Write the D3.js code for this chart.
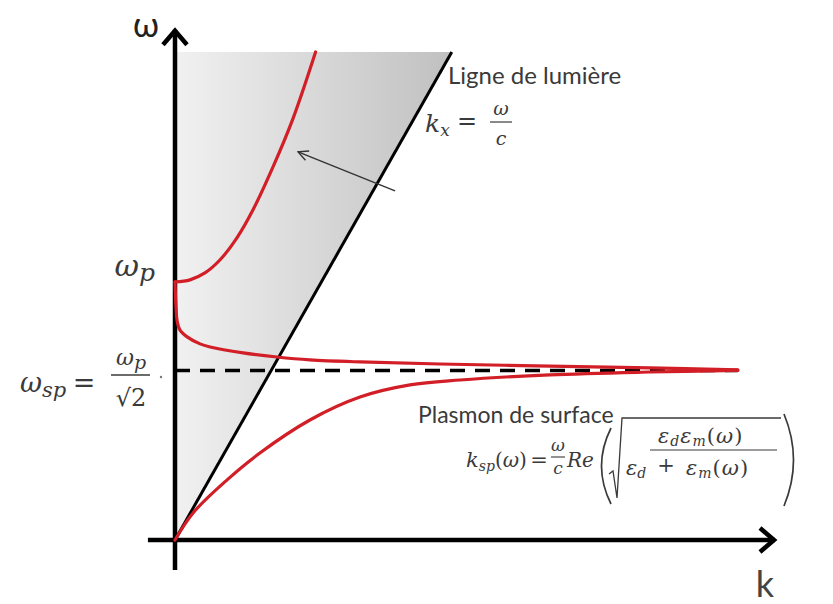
<!DOCTYPE html>
<html><head><meta charset="utf-8">
<script src="https://cdn.jsdelivr.net/npm/d3@7"></script>
<style>body{margin:0;background:#fff}svg{display:block}text{white-space:pre}</style>
</head><body>
<script>
// Surface plasmon dispersion: ω versus k, ω in units of ω_p
const omegaP = 1.0;
const omegaSp = 0.657;          // asymptote ω_sp
const omegaTop = 1.891;         // top of the shaded light cone
const lightLine = [[0, 0], [1.073, 1.891]];
const kMax = 2.182;             // right end of the asymptote
const kAxis = [-0.105, 2.326];
const wAxis = [-0.116, 1.977];

// bulk branch above ω_p
const bulkBranch = [[0, 1.0], [0.058, 1.008], [0.116, 1.035], [0.174, 1.085], [0.240, 1.171],
  [0.302, 1.279], [0.380, 1.446], [0.457, 1.632], [0.545, 1.891]];
// branch falling from ω_p towards ω_sp
const surfaceUpper = [[0, 1.0], [0.004, 0.90], [0.008, 0.85], [0.019, 0.814], [0.047, 0.787],
  [0.097, 0.760], [0.136, 0.748], [0.264, 0.725], [0.395, 0.709], [0.523, 0.698], [0.717, 0.690],
  [1.027, 0.682], [1.453, 0.674], [1.841, 0.667], [2.182, 0.659]];
// surface plasmon branch from the origin
const surfaceLower = [[0, 0], [0.070, 0.105], [0.202, 0.233], [0.329, 0.337], [0.523, 0.465],
  [0.717, 0.554], [0.911, 0.601], [1.105, 0.620], [1.453, 0.640], [1.841, 0.651], [2.182, 0.657]];
// arrow pointing into the light cone (tail, head)
const coneArrow = [[0.853, 1.353], [0.477, 1.504]];

const W = 833, H = 604;
const x = d3.scaleLinear().domain([0, 2.326]).range([175, 775]);
const y = d3.scaleLinear().domain([0, omegaTop]).range([540, 52]);

const svg = d3.select("body").append("svg").attr("width", W).attr("height", H);
const defs = svg.append("defs");

const grad = defs.append("linearGradient").attr("id", "cone")
  .attr("gradientUnits", "userSpaceOnUse")
  .attr("x1", x(0)).attr("x2", x(lightLine[1][0])).attr("y1", 0).attr("y2", 0);
grad.append("stop").attr("offset", 0).attr("stop-color", "#f1f1f1");
grad.append("stop").attr("offset", 1).attr("stop-color", "#c0c0c0");

defs.append("marker").attr("id", "head").attr("viewBox", "0 0 12 12")
  .attr("refX", 11).attr("refY", 6).attr("markerWidth", 12).attr("markerHeight", 12)
  .attr("markerUnits", "userSpaceOnUse").attr("orient", "auto")
  .append("path").attr("d", "M1,1 L11,6 L1,11").attr("fill", "none")
  .attr("stroke", "#333").attr("stroke-width", 1.4);

const line = d3.line().x(d => x(d[0])).y(d => y(d[1]));
const curve = d3.line().x(d => x(d[0])).y(d => y(d[1])).curve(d3.curveCatmullRom.alpha(0.5));

// shaded light cone
svg.append("path")
  .attr("d", line([[0, 0], [0, omegaTop], [lightLine[1][0], omegaTop], [0, 0]]))
  .attr("fill", "url(#cone)");

// light line
svg.append("path").attr("d", line(lightLine))
  .attr("stroke", "#000").attr("stroke-width", 3).attr("fill", "none");

// ω_sp asymptote
svg.append("path").attr("d", line([[0, omegaSp], [kMax, omegaSp]]))
  .attr("stroke", "#000").attr("stroke-width", 3.5).attr("stroke-dasharray", "15 10")
  .attr("fill", "none");

// axes with chevron heads
const axisG = svg.append("g").attr("stroke", "#000").attr("stroke-width", 4.5).attr("fill", "none");
axisG.append("path").attr("d", line([[0, wAxis[0]], [0, wAxis[1]]]));
axisG.append("path").attr("d", line([[kAxis[0], 0], [kAxis[1], 0]]));
axisG.append("path").attr("stroke-linejoin", "miter")
  .attr("d", `M${x(0) - 12},${y(wAxis[1]) + 15} L${x(0)},${y(wAxis[1]) + 1} L${x(0) + 12},${y(wAxis[1]) + 15}`);
axisG.append("path").attr("stroke-linejoin", "miter")
  .attr("d", `M${x(kAxis[1]) - 15},${y(0) - 12} L${x(kAxis[1]) - 1},${y(0)} L${x(kAxis[1]) - 15},${y(0) + 12}`);

// dispersion branches
const red = "#d21f27";
[bulkBranch, surfaceUpper, surfaceLower].forEach(b => {
  svg.append("path").attr("d", curve(b)).attr("stroke", red).attr("stroke-width", 3.2)
    .attr("fill", "none").attr("stroke-linecap", "round");
});

// arrow
svg.append("path").attr("d", line(coneArrow)).attr("stroke", "#333").attr("stroke-width", 1.4)
  .attr("fill", "none").attr("marker-end", "url(#head)");

// ---- text ----
const serif = "'DejaVu Serif', serif";
const sans = "Lato, 'Open Sans', sans-serif";
const ink = "#3a3a3a";

function math(xp, yp, parts, anchor, spacing) {
  const t = svg.append("text").attr("x", xp).attr("y", yp).attr("fill", ink)
    .attr("font-family", serif).attr("text-anchor", anchor || "start");
  if (spacing) t.attr("letter-spacing", spacing);
  parts.forEach(p => {
    const s = t.append("tspan").text(p.t).attr("font-size", p.s)
      .attr("font-style", p.i === false ? "normal" : "italic");
    if (p.dy) s.attr("dy", p.dy);
  });
  return t;
}
function bar(x1, x2, yy, w) {
  svg.append("line").attr("x1", x1).attr("x2", x2).attr("y1", yy).attr("y2", yy)
    .attr("stroke", ink).attr("stroke-width", w || 1.2);
}

// axis titles
svg.append("text").attr("x", 146).attr("y", 37).attr("text-anchor", "middle")
  .attr("font-family", sans).attr("font-size", 34).attr("fill", "#222").text("ω");
svg.append("text").attr("x", 765).attr("y", 597).attr("text-anchor", "middle")
  .attr("font-family", sans).attr("font-size", 36).attr("fill", "#444").text("k");

// ω_p
math(155, y(omegaP) - 6, [{ t: "ω", s: 30 }, { t: "p", s: 25, dy: 5 }], "end");

// ω_sp = ω_p / √2
math(20, 392, [{ t: "ω", s: 27 }, { t: "sp", s: 21, dy: 5 }]);
math(84, 392, [{ t: "=", s: 27, i: false }], "middle");
math(131, 365, [{ t: "ω", s: 22 }, { t: "p", s: 19, dy: 4 }], "middle");
bar(111, 150, 375, 1.3);
math(131, 406, [{ t: "√", s: 24, i: false }, { t: "2", s: 24, i: false }], "middle");
svg.append("circle").attr("cx", 161).attr("cy", 377).attr("r", 1.2).attr("fill", "#777");

// light line label
svg.append("text").attr("x", 448).attr("y", 84).attr("font-family", sans).attr("font-size", 24)
  .attr("fill", ink).text("Ligne de lumière");
math(425, 132, [{ t: "k", s: 25 }, { t: "x", s: 17, dy: 4 }]);
math(467, 129, [{ t: "=", s: 24, i: false }], "middle");
math(501, 115, [{ t: "ω", s: 19 }], "middle");
bar(490, 512, 122);
math(501, 145, [{ t: "c", s: 19 }], "middle");

// surface plasmon label and formula
svg.append("text").attr("x", 418).attr("y", 423).attr("font-family", sans).attr("font-size", 23)
  .attr("fill", ink).text("Plasmon de surface");
math(466, 467, [{ t: "k", s: 21 }, { t: "sp", s: 14, dy: 4 }, { t: "(", s: 20, dy: -4, i: false },
  { t: "ω", s: 20 }, { t: ")", s: 20, i: false }]);
math(539, 467, [{ t: "=", s: 21, i: false }], "middle");
math(558, 451, [{ t: "ω", s: 17 }], "middle");
bar(551, 565, 457, 1.1);
math(558, 474, [{ t: "c", s: 17 }], "middle");
math(567, 467, [{ t: "Re", s: 20 }]);
// big parentheses and radical
const fg = svg.append("g").attr("stroke", ink).attr("fill", "none").attr("stroke-width", 1.7);
fg.append("path").attr("d", "M611,428 Q592,466 611,504");
fg.append("path").attr("d", "M784,414 Q803,460 784,506");
fg.append("path").attr("stroke-width", 1.3)
  .attr("d", "M609,474 L613,471 L617,498 L622,418 L781,418");
math(658, 443, [{ t: "ε", s: 21 }, { t: "d", s: 14, dy: 3 }, { t: "ε", s: 21, dy: -3 },
  { t: "m", s: 14, dy: 3 }, { t: "(", s: 21, dy: -3, i: false }, { t: "ω", s: 21 }, { t: ")", s: 21, i: false }], "start", 1);
bar(650, 777, 450, 1.1);
math(626, 475, [{ t: "ε", s: 21 }, { t: "d", s: 14, dy: 3 }]);
math(666, 472, [{ t: "+", s: 21, i: false }], "middle");
math(686, 475, [{ t: "ε", s: 21 }, { t: "m", s: 14, dy: 3 }, { t: "(", s: 21, dy: -3, i: false },
  { t: "ω", s: 21 }, { t: ")", s: 21, i: false }], "start", 1);
</script>
</body></html>
